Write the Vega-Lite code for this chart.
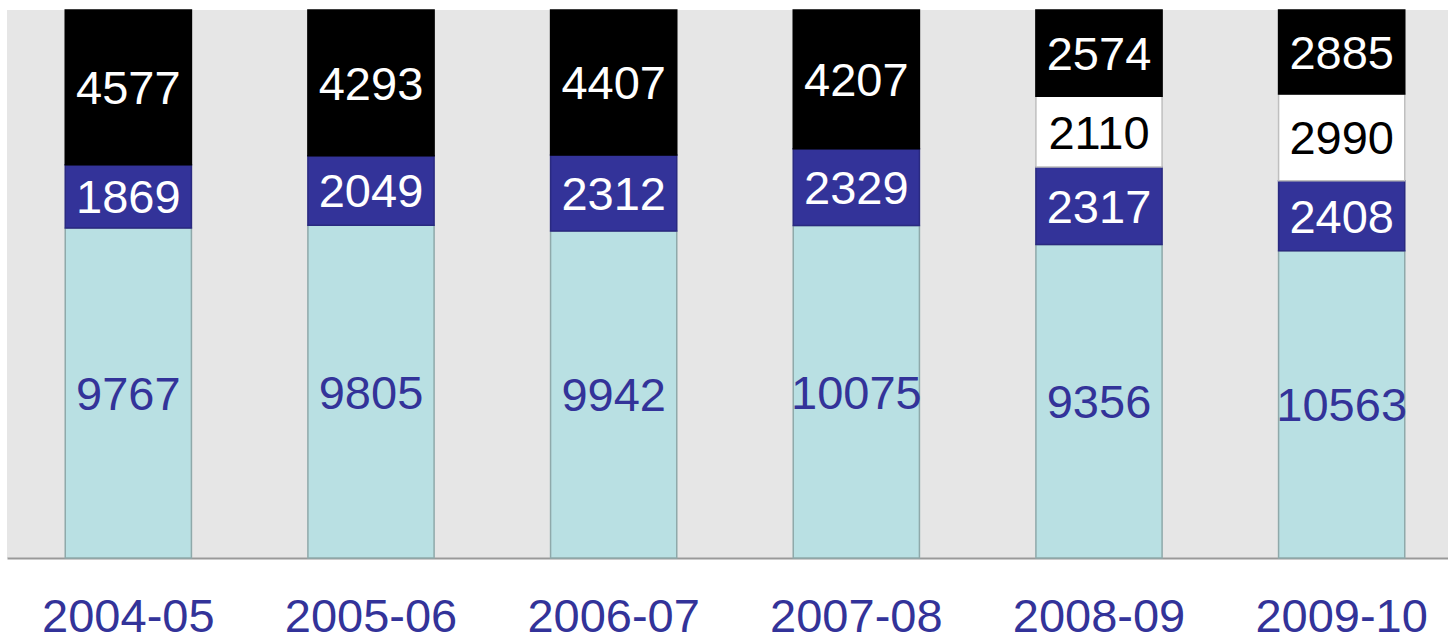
{
  "$schema": "https://vega.github.io/schema/vega-lite/v6.json",
  "width": 1441,
  "height": 548,
  "padding": {"left": 7, "top": 9, "right": 0, "bottom": 0},
  "autosize": {"type": "pad"},
  "background": "white",
  "config": {"view": {"fill": "#E6E6E6", "stroke": null}, "font": "Liberation Sans"},
  "data": {"values": [
    {"year": "2004-05", "series": "A", "k": 1, "value": 9767},
    {"year": "2004-05", "series": "B", "k": 2, "value": 1869},
    {"year": "2004-05", "series": "D", "k": 4, "value": 4577},
    {"year": "2005-06", "series": "A", "k": 1, "value": 9805},
    {"year": "2005-06", "series": "B", "k": 2, "value": 2049},
    {"year": "2005-06", "series": "D", "k": 4, "value": 4293},
    {"year": "2006-07", "series": "A", "k": 1, "value": 9942},
    {"year": "2006-07", "series": "B", "k": 2, "value": 2312},
    {"year": "2006-07", "series": "D", "k": 4, "value": 4407},
    {"year": "2007-08", "series": "A", "k": 1, "value": 10075},
    {"year": "2007-08", "series": "B", "k": 2, "value": 2329},
    {"year": "2007-08", "series": "D", "k": 4, "value": 4207},
    {"year": "2008-09", "series": "A", "k": 1, "value": 9356},
    {"year": "2008-09", "series": "B", "k": 2, "value": 2317},
    {"year": "2008-09", "series": "C", "k": 3, "value": 2110},
    {"year": "2008-09", "series": "D", "k": 4, "value": 2574},
    {"year": "2009-10", "series": "A", "k": 1, "value": 10563},
    {"year": "2009-10", "series": "B", "k": 2, "value": 2408},
    {"year": "2009-10", "series": "C", "k": 3, "value": 2990},
    {"year": "2009-10", "series": "D", "k": 4, "value": 2885}
  ]},
  "transform": [
    {"stack": "value", "groupby": ["year"], "sort": [{"field": "k", "order": "ascending"}], "offset": "normalize", "as": ["y0", "y1"]},
    {"calculate": "(datum.y0 + datum.y1) / 2", "as": "ym"}
  ],
  "encoding": {
    "x": {
      "field": "year", "type": "ordinal",
      "scale": {"range": [0, 1456], "paddingInner": 0.48, "paddingOuter": 0.24},
      "axis": {
        "title": null, "labelAngle": 0, "labelFontSize": 47, "labelColor": "#333399",
        "labelFont": "Liberation Sans", "ticks": false, "tickSize": 0,
        "domainColor": "#999999", "domainWidth": 2,
        "labelBaseline": "alphabetic", "labelPadding": 73
      }
    }
  },
  "layer": [
    {
      "mark": {"type": "bar", "strokeWidth": 1.5},
      "encoding": {
        "y": {"field": "y0", "type": "quantitative", "scale": {"domain": [0, 1], "nice": false}, "axis": null},
        "y2": {"field": "y1"},
        "fill": {"field": "series", "type": "nominal", "scale": {"domain": ["A", "B", "C", "D"], "range": ["#B9E0E3", "#333399", "#FFFFFF", "#000000"]}, "legend": null},
        "stroke": {"field": "series", "type": "nominal", "scale": {"domain": ["A", "B", "C", "D"], "range": ["#8FA9AA", "#2A2A80", "#BFBFBF", "#000000"]}, "legend": null}
      }
    },
    {
      "mark": {"type": "text", "fontSize": 47, "font": "Liberation Sans", "baseline": "middle", "dy": 3},
      "encoding": {
        "y": {"field": "ym", "type": "quantitative"},
        "text": {"field": "value", "type": "quantitative", "format": "d"},
        "color": {"field": "series", "type": "nominal", "scale": {"domain": ["A", "B", "C", "D"], "range": ["#333399", "#FFFFFF", "#000000", "#FFFFFF"]}, "legend": null}
      }
    }
  ],
  "resolve": {"scale": {"color": "independent"}}
}
